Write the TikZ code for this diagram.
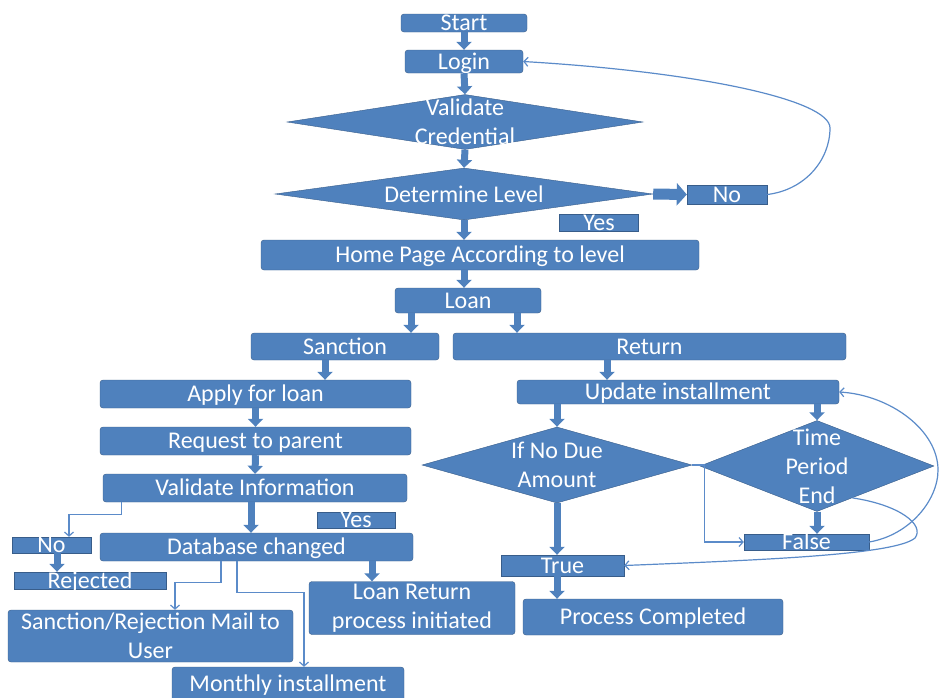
\documentclass[tikz,border=0pt]{standalone}
\usepackage{fontspec}
\setmainfont{Carlito}
\usetikzlibrary{shapes.geometric,arrows.meta}
\definecolor{boxblue}{HTML}{4F81BD}
\definecolor{edgeblue}{HTML}{385D8A}
\definecolor{lineblue}{HTML}{5B8BC9}
\begin{document}
\begin{tikzpicture}[x=1pt,y=-1pt,
	box/.style={draw=edgeblue,fill=boxblue,rounded corners=3pt,text=white,inner sep=0pt,font=\fontsize{24}{29}\selectfont,text height=15pt,text depth=0pt},
	flat/.style={box,sharp corners},
	tall/.style={box,align=center,text height=,text depth=},
	dec/.style={diamond,draw=edgeblue,fill=boxblue,inner sep=0pt},
	txt/.style={text=white,align=center,inner sep=0pt,font=\fontsize{24}{29}\selectfont},
	blk/.style={boxblue,line width=7pt,-{Triangle[width=15pt,length=8pt]}},
	link/.style={lineblue,line width=1.2pt,-{Straight Barb[length=4pt,width=9pt]}}]
				\useasboundingbox (0,0) rectangle (939,697);
				\node[box,minimum width=126,minimum height=18] (start) at (464,23) {Start};
				\node[box,minimum width=118,minimum height=23] (login) at (464,61.5) {Login};
				\node[dec,minimum width=356,minimum height=55] (valid) at (465,122) {};
				\node[txt] (validtxt) at (valid) {Validate\\Credential};
				\node[dec,minimum width=378,minimum height=52] (level) at (464,194) {};
				\node[txt] (leveltxt) at (level) {Determine Level};
				\node[flat,minimum width=80,minimum height=19] (no) at (727,194.5) {No};
				\node[flat,minimum width=79,minimum height=17] (yes) at (599,222.5) {Yes};
				\node[box,minimum width=438,minimum height=30] (home) at (480,255) {Home Page According to level};
				\node[box,minimum width=146,minimum height=25] (loan) at (468,300.5) {Loan};
				\node[box,minimum width=188,minimum height=27] (sanction) at (345,346.5) {Sanction};
				\node[box,minimum width=393,minimum height=27] (return) at (649.5,346.5) {Return};
				\node[box,minimum width=311,minimum height=28] (apply) at (255.5,394) {Apply for loan};
				\node[box,minimum width=311,minimum height=28] (request) at (255.5,441) {Request to parent};
				\node[box,minimum width=304,minimum height=28] (info) at (255,488) {Validate Information};
				\node[flat,minimum width=78,minimum height=16] (yes2) at (356,520) {Yes};
				\node[box,minimum width=313,minimum height=28] (db) at (256.5,547) {Database changed};
				\node[flat,minimum width=79,minimum height=16] (no2) at (51.5,545) {No};
				\node[flat,minimum width=152,minimum height=17] (rejected) at (90,580.5) {Rejected};
				\node[tall,minimum width=285,minimum height=52] (mail) at (150.5,636) {Sanction/Rejection Mail to\\User};
				\node[tall,minimum width=206,minimum height=53] (loanret) at (412,608) {Loan Return\\process initiated};
				\node[box,minimum width=232,minimum height=34] (monthly) at (288,684) {Monthly installment};
				\node[box,minimum width=322,minimum height=24] (update) at (678,392) {Update installment};
				\node[dec,minimum width=270,minimum height=76] (nodue) at (557,465) {};
				\node[txt] (nouetxt) at (nodue) {If No Due\\Amount};
				\node[dec,minimum width=234,minimum height=91] (period) at (817,466) {};
				\node[txt] (periodtxt) at (period) {Time\\Period\\End};
				\node[flat,minimum width=125,minimum height=16] (false) at (806.5,542) {False};
				\node[flat,minimum width=123,minimum height=21] (true) at (562.5,565.5) {True};
				\node[box,minimum width=260,minimum height=36] (done) at (653,617) {Process Completed};
				\draw[blk] (start.south) to (login.north);
				\draw[blk] (login.south) to (valid.north);
				\draw[blk] (valid.south) to (level.north);
				\draw[blk,line width=11pt,-{Triangle[width=22pt,length=10pt]}] (level.east) to (no.west);
				\draw[blk] (level.south) to ([xshift=-16]home.north);
				\draw[blk] ([xshift=-16]home.south) to ([xshift=-4]loan.north);
				\draw[blk] ([xshift=-57]loan.south) to ([xshift=66]sanction.north);
				\draw[blk] ([xshift=49]loan.south) to ([xshift=-132.5]return.north);
				\draw[blk] ([xshift=-20]sanction.south) to ([xshift=69.5]apply.north);
				\draw[blk] (apply.south) to (request.north);
				\draw[blk] (request.south) to (info.north);
				\draw[blk] ([xshift=-4]info.south) to ([xshift=-5.5]db.north);
				\draw[blk] ([xshift=115.5]db.south) to ([xshift=-40]loanret.north);
				\draw[blk] ([xshift=5.5]no2.south) to ([xshift=-33]rejected.north);
				\draw[blk] ([xshift=-42.5]return.south) to ([xshift=-71]update.north);
				\draw[blk] ([xshift=-121]update.south) to (nodue.north);
				\draw[blk] ([xshift=139]update.south) to (period.north);
				\draw[blk] (nodue.south) to ([xshift=-5.5]true.north);
				\draw[blk] (period.south) to ([xshift=10.5]false.north);
				\draw[blk] ([xshift=-5.5]true.south) to ([xshift=-96]done.north);
				\draw[link] (no.east) .. controls (805,190) and (830,160) .. (830,128) .. controls (830,100) and (700,72) .. (login.east);
				\draw[link] ([xshift=19]info.south west) -- ++(0,12) -| ([xshift=17.5]no2.north);
				\draw[link] ([xshift=-35.5]db.south) -- ++(0,21) -| ([xshift=24.5]mail.north);
				\draw[link] ([xshift=-19.5]db.south) -- ++(0,31) -| ([xshift=16]monthly.north);
				\draw[link] (nodue.east) -- ++(12,0) |- (false.west);
				\draw[link] (false.east) .. controls (910,535) and (938,500) .. (938,470) .. controls (938,430) and (890,395) .. (update.east);
				\draw[link] (period.-42) .. controls (900,505) and (925,525) .. (915,538) .. controls (895,555) and (760,560) .. (true.east);
			\end{tikzpicture}
\end{document}
